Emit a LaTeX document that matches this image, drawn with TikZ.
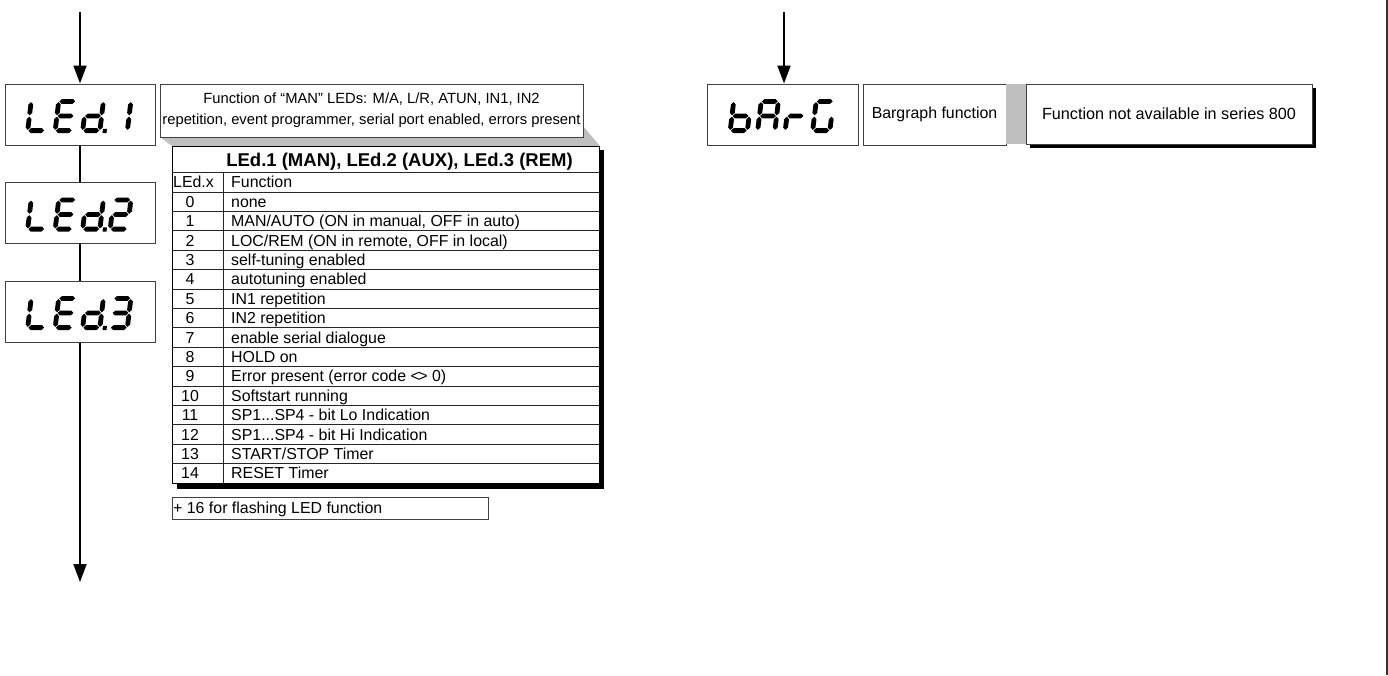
\documentclass[tikz,border=0pt]{standalone}
\usepackage{fontspec}
\setmainfont{Liberation Sans}
\usetikzlibrary{arrows.meta}
\def\sgh{2.4}
\def\sgp{0.7}
\newcommand{\segHH}[3]{\fill ({#1+\sgp},{#3}) -- ({#1+\sgp+\sgh},{#3-\sgh}) -- ({#2-\sgp-\sgh},{#3-\sgh}) -- ({#2-\sgp},{#3}) -- ({#2-\sgp-\sgh},{#3+\sgh}) -- ({#1+\sgp+\sgh},{#3+\sgh}) -- cycle;}
\newcommand{\segVV}[3]{\fill ({#1},{#2+\sgp}) -- ({#1+\sgh},{#2+\sgp+\sgh}) -- ({#1+\sgh},{#3-\sgp-\sgh}) -- ({#1},{#3-\sgp}) -- ({#1-\sgh},{#3-\sgp-\sgh}) -- ({#1-\sgh},{#2+\sgp+\sgh}) -- cycle;}
\def\segA{\segHH{2.4}{19.6}{-31.6}}
\def\segB{\segVV{19.6}{-31.6}{-17}}
\def\segC{\segVV{19.6}{-17}{-2.4}}
\def\segD{\segHH{2.4}{19.6}{-2.4}}
\def\segE{\segVV{2.4}{-17}{-2.4}}
\def\segF{\segVV{2.4}{-31.6}{-17}}
\def\segG{\segHH{2.4}{19.6}{-17}}
\def\segP{\fill (22.5,-4.2) rectangle (26.5,0);}
\newcommand{\sevseg}[3]{\begin{scope}[shift={(#1,#2)},xslant=0.12]\foreach \s in {#3}{\csname seg\s\endcsname}\end{scope}}
\newcommand{\rowfont}{\fontsize{15.9}{19}\selectfont}
\newcommand{\trow}[3]{%
  \node[rowtxt, anchor=base] (n#1) at (190,{207.2+19.4*#1}) {#2};
  \node[rowtxt, anchor=base west] (f#1) at (231,{207.2+19.4*#1}) {#3};}
\begin{document}
\begin{tikzpicture}[x=1pt,y=-1pt,
  box/.style={draw=black!75, line width=1pt, fill=white, inner sep=0pt},
  dispbox/.style={box, minimum width=150pt, minimum height=61pt},
  arr/.style={line width=2pt, -{Triangle[length=18pt,width=13pt]}},
  conn/.style={line width=2pt},
  rowtxt/.style={inner sep=0pt, font=\rowfont},
  rowline/.style={draw=black!85, line width=0.9pt},
  shade/.style={fill=black!25}]
\useasboundingbox (0,0) rectangle (1388,675);
% right edge line
\draw[black!80, line width=1.5pt] (1387,0) -- (1387,675);
% left column
\node[dispbox] (led1) at (80,114.5) {};
\node[dispbox] (led2) at (80,213) {};
\node[dispbox] (led3) at (80,311.5) {};
\coordinate (in1) at (80,12);
\coordinate (out1) at (80,582);
\draw[arr] (in1) -- (led1.north);
\draw[conn] (led1.south) -- (led2.north);
\draw[conn] (led2.south) -- (led3.north);
\draw[arr] (led3.south) -- (out1);
% digits
\sevseg{25}{133}{F,E,D}
\sevseg{52.5}{133}{A,F,G,E,D}
\sevseg{80}{133}{B,C,D,E,G,P}
\sevseg{107.5}{133}{B,C}
\sevseg{25}{231.5}{F,E,D}
\sevseg{52.5}{231.5}{A,F,G,E,D}
\sevseg{80}{231.5}{B,C,D,E,G,P}
\sevseg{107.5}{231.5}{A,B,G,E,D}
\sevseg{25}{330}{F,E,D}
\sevseg{52.5}{330}{A,F,G,E,D}
\sevseg{80}{330}{B,C,D,E,G,P}
\sevseg{107.5}{330}{A,B,G,C,D}
% callout shading
\fill[shade] (160,137) -- (583,126) -- (600,146) -- (172,146) -- cycle;
\node[box, minimum width=423pt, minimum height=53pt, align=center,
  font=\fontsize{14.75}{21}\selectfont] (func) at (371.5,110.5)
  {Function of “MAN” LEDs: M/A, L/R, ATUN, IN1, IN2\\repetition, event programmer, serial port enabled, errors present};
% table
\fill[black] (177,150) rectangle (604,489);
\node[draw=black, line width=1pt, fill=white, minimum width=427pt, minimum height=337pt, anchor=north west, inner sep=0pt] (tbl) at (172,146) {};
\draw[rowline] (172,172) -- (599,172);
\foreach \i in {0,...,14} \draw[rowline] (172,{192+19.4*\i}) -- (599,{192+19.4*\i});
\draw[rowline] (223,172) -- (223,483);
\node[inner sep=0pt, anchor=base, font=\fontsize{18.5}{22}\selectfont\bfseries] (title) at (399.5,166) {LEd.1 (MAN), LEd.2 (AUX), LEd.3 (REM)};
\node[rowtxt, anchor=base west] (hx) at (173,187.5) {LEd.x};
\node[rowtxt, anchor=base west] (hf) at (231,187.5) {Function};
\trow{0}{0}{none}
\trow{1}{1}{MAN/AUTO (ON in manual, OFF in auto)}
\trow{2}{2}{LOC/REM (ON in remote, OFF in local)}
\trow{3}{3}{self-tuning enabled}
\trow{4}{4}{autotuning enabled}
\trow{5}{5}{IN1 repetition}
\trow{6}{6}{IN2 repetition}
\trow{7}{7}{enable serial dialogue}
\trow{8}{8}{HOLD on}
\trow{9}{9}{Error present (error code <\kern-1.5pt> 0)}
\trow{10}{10}{Softstart running}
\trow{11}{11}{SP1...SP4 - bit Lo Indication}
\trow{12}{12}{SP1...SP4 - bit Hi Indication}
\trow{13}{13}{START/STOP Timer}
\trow{14}{14}{RESET Timer}
\node[box, minimum width=316pt, minimum height=22pt, anchor=north west] (flash) at (172,497) {};
\node[rowtxt, anchor=base west] (flasht) at (173,513.5) {+ 16 for flashing LED function};
% right column
\node[dispbox, minimum width=151pt] (barg) at (782.5,114.5) {};
\coordinate (in2) at (784,12);
\draw[arr] (in2) -- (in2 |- barg.north);
\sevseg{727.5}{133}{F,E,D,C,G}
\sevseg{755}{133}{A,B,C,E,F,G}
\sevseg{782.5}{133}{E,G}
\sevseg{810}{133}{A,F,E,D,C}
\node[box, minimum width=143pt, minimum height=61pt, font=\rowfont] (bfun) at (934.5,114.5) {Bargraph function};
\fill[shade] (1006,84) rectangle (1026,144);
\fill[black] (1030,88) rectangle (1316,148);
\node[box, minimum width=286pt, minimum height=60pt, font=\fontsize{16.2}{19}\selectfont] (nav) at (1169,114) {Function not available in series 800};
\end{tikzpicture}
\end{document}
